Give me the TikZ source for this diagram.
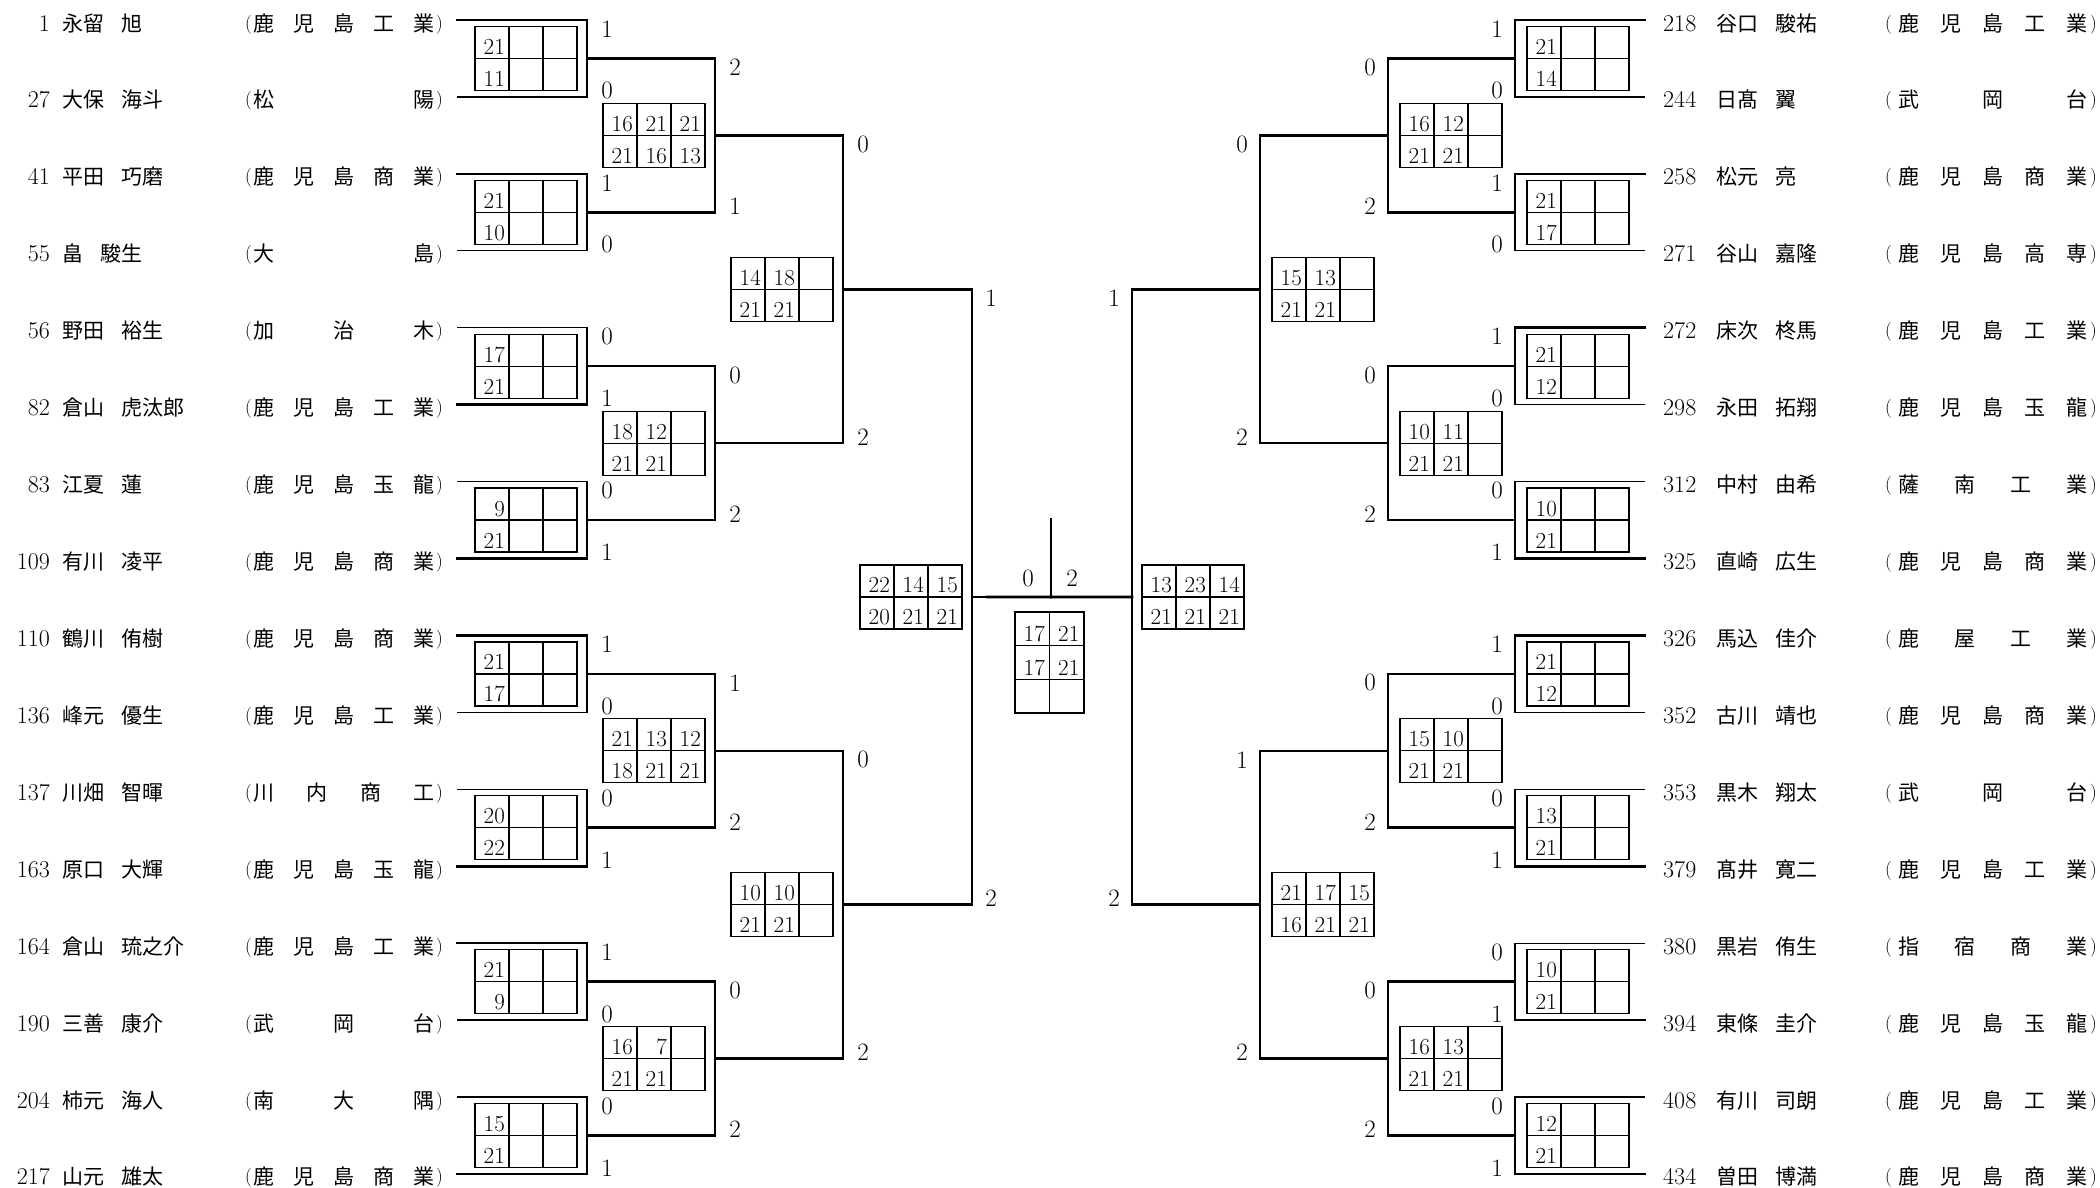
\documentclass[tikz,border=0pt]{standalone}
\usepackage{fontspec}
\newfontfamily\jpfont{Noto Sans CJK JP}
\usetikzlibrary{calc}
\tikzset{
  win line/.style={line width=2.6pt, line cap=rect},
  lose line/.style={line width=1.3pt},
  gridbox/.style={draw, line width=1.2pt, minimum width=102pt, minimum height=64pt, inner sep=0pt, outer sep=0pt},
  gridline/.style={line width=1.2pt},
  score/.style={font=\fontsize{23}{23}\selectfont, inner sep=0pt, anchor=base east},
  lbl/.style={font=\fontsize{25}{25}\selectfont, inner sep=0pt},
  numtxt/.style={font=\fontsize{24}{24}\selectfont, inner sep=0pt},
  jptxt/.style={font=\jpfont\fontsize{21}{21}\selectfont, inner sep=0pt},
  partxt/.style={font=\fontsize{19}{19}\selectfont, inner sep=0pt},
}
% score grid: #1 name, #2 anchor, #3 position, #4-#6 top row, #7-#9 bottom row
\newcommand\scoregrid[9]{%
  \node[gridbox, anchor=#2] (#1) at #3 {};
  \draw[gridline] ([xshift=34pt]#1.north west) -- ([xshift=34pt]#1.south west)
                  ([xshift=68pt]#1.north west) -- ([xshift=68pt]#1.south west)
                  (#1.west) -- (#1.east);
  \node[score] (#1a) at ([xshift=30pt,yshift=4pt]#1.west) {#4};
  \node[score] (#1b) at ([xshift=64pt,yshift=4pt]#1.west) {#5};
  \node[score] (#1c) at ([xshift=98pt,yshift=4pt]#1.west) {#6};
  \node[score] (#1d) at ([xshift=30pt,yshift=4pt]#1.south west) {#7};
  \node[score] (#1e) at ([xshift=64pt,yshift=4pt]#1.south west) {#8};
  \node[score] (#1f) at ([xshift=98pt,yshift=4pt]#1.south west) {#9};
}
% entrant path: #1 from, #2 to, #3 won, #4 round
\newcommand\entrant[4]{%
  \ifnum#3=1
    \draw[win line] (#1) -| (#2);
  \else
    \ifnum#4=1
      \draw[lose line] (#1) -| (#2);
    \else
      \draw[win line] (#1) -- (#1 -| #2);
      \draw[lose line] (#1 -| #2) -- (#2);
    \fi
  \fi}
% match: #1 side, #2 round, #3 k, #4 winner, #5 top label, #6 bottom label, #7 x, #8 label offset
\newcommand\drawmatch[8]{%
  \pgfmathtruncatemacro\bkkt{2*#3-1}%
  \pgfmathtruncatemacro\bkkb{2*#3}%
  \pgfmathtruncatemacro\bkrp{#2-1}%
  \pgfmathtruncatemacro\bkpw{2^(#2-1)}%
  \pgfmathsetmacro\bkya{20+76.93*(((2*#3-2)*\bkpw+1+(2*#3-1)*\bkpw)/2-1)}%
  \pgfmathsetmacro\bkyb{20+76.93*(((2*#3-1)*\bkpw+1+2*#3*\bkpw)/2-1)}%
  \pgfmathsetmacro\bkym{(\bkya+\bkyb)/2}%
  \pgfmathsetmacro\bklx{#7+(#8)}%
  \coordinate (#1M#2x#3) at (#7,\bkym);
  \ifnum#2=1 \edef\bkpa{#1R\bkkt}\edef\bkpb{#1R\bkkb}\else\edef\bkpa{#1M\bkrp x\bkkt}\edef\bkpb{#1M\bkrp x\bkkb}\fi
  \ifnum#4=1
    \edef\bktmp{\noexpand\entrant{\bkpb}{#1M#2x#3}{0}{#2}\noexpand\entrant{\bkpa}{#1M#2x#3}{1}{#2}}%
  \else
    \edef\bktmp{\noexpand\entrant{\bkpa}{#1M#2x#3}{0}{#2}\noexpand\entrant{\bkpb}{#1M#2x#3}{1}{#2}}%
  \fi
  \bktmp
  \node[lbl] (#1Lt#2x#3) at (\bklx,\bkya+9) {#5};
  \node[lbl] (#1Lb#2x#3) at (\bklx,\bkyb-6) {#6};
}
% left entry row: #1 row, #2 number, #3 family, #4 given, #5 count, #6 school chars
\newcommand\leftrow[6]{%
  \pgfmathsetmacro\rowyv{20+76.93*(#1-1)}%
  \coordinate (LR#1) at (457,\rowyv);
  \node[numtxt, anchor=base east] (Lnum#1) at (50,\rowyv+11) {#2};
  \node[jptxt, anchor=base west] (Lname#1) at (62,\rowyv+11) {#3\hspace{0.8em}#4};
  \node[partxt, anchor=base east] (Lpo#1) at (252,\rowyv+9) {(};
  \node[partxt, anchor=base west] (Lpc#1) at (436,\rowyv+9) {)};
  \foreach \schar [count=\jj] in {#6} {
    \pgfmathsetmacro\xx{264+(\jj-1)*160/(#5-1)}
    \node[jptxt, anchor=base] (Lsch#1x\jj) at (\xx,\rowyv+11) {\schar};
  }
}
\newcommand\rightrow[6]{%
  \pgfmathsetmacro\rowyv{20+76.93*(#1-1)}%
  \coordinate (RR#1) at (1645,\rowyv);
  \node[numtxt, anchor=base west] (Rnum#1) at (1663,\rowyv+11) {#2};
  \node[jptxt, anchor=base west] (Rname#1) at (1716,\rowyv+11) {#3\hspace{0.8em}#4};
  \node[partxt, anchor=base east] (Rpo#1) at (1892,\rowyv+9) {(};
  \node[partxt, anchor=base west] (Rpc#1) at (2090,\rowyv+9) {)};
  \foreach \schar [count=\jj] in {#6} {
    \pgfmathsetmacro\xx{1909+(\jj-1)*168/(#5-1)}
    \node[jptxt, anchor=base] (Rsch#1x\jj) at (\xx,\rowyv+11) {\schar};
  }
}
\begin{document}
\begin{tikzpicture}[x=1pt,y=-1pt]
\useasboundingbox (0,0) rectangle (2100,1187);
\fill[white] (0,0) rectangle (2100,1187);
% ---------- left entries
\leftrow{1}{1}{永留}{旭}{5}{鹿,児,島,工,業}
\leftrow{2}{27}{大保}{海斗}{2}{松,陽}
\leftrow{3}{41}{平田}{巧磨}{5}{鹿,児,島,商,業}
\leftrow{4}{55}{畠}{駿生}{2}{大,島}
\leftrow{5}{56}{野田}{裕生}{3}{加,治,木}
\leftrow{6}{82}{倉山}{虎汰郎}{5}{鹿,児,島,工,業}
\leftrow{7}{83}{江夏}{蓮}{5}{鹿,児,島,玉,龍}
\leftrow{8}{109}{有川}{凌平}{5}{鹿,児,島,商,業}
\leftrow{9}{110}{鶴川}{侑樹}{5}{鹿,児,島,商,業}
\leftrow{10}{136}{峰元}{優生}{5}{鹿,児,島,工,業}
\leftrow{11}{137}{川畑}{智暉}{4}{川,内,商,工}
\leftrow{12}{163}{原口}{大輝}{5}{鹿,児,島,玉,龍}
\leftrow{13}{164}{倉山}{琉之介}{5}{鹿,児,島,工,業}
\leftrow{14}{190}{三善}{康介}{3}{武,岡,台}
\leftrow{15}{204}{柿元}{海人}{3}{南,大,隅}
\leftrow{16}{217}{山元}{雄太}{5}{鹿,児,島,商,業}
% ---------- right entries
\rightrow{1}{218}{谷口}{駿祐}{5}{鹿,児,島,工,業}
\rightrow{2}{244}{日髙}{翼}{3}{武,岡,台}
\rightrow{3}{258}{松元}{亮}{5}{鹿,児,島,商,業}
\rightrow{4}{271}{谷山}{嘉隆}{5}{鹿,児,島,高,専}
\rightrow{5}{272}{床次}{柊馬}{5}{鹿,児,島,工,業}
\rightrow{6}{298}{永田}{拓翔}{5}{鹿,児,島,玉,龍}
\rightrow{7}{312}{中村}{由希}{4}{薩,南,工,業}
\rightrow{8}{325}{直崎}{広生}{5}{鹿,児,島,商,業}
\rightrow{9}{326}{馬込}{佳介}{4}{鹿,屋,工,業}
\rightrow{10}{352}{古川}{靖也}{5}{鹿,児,島,商,業}
\rightrow{11}{353}{黒木}{翔太}{3}{武,岡,台}
\rightrow{12}{379}{髙井}{寛二}{5}{鹿,児,島,工,業}
\rightrow{13}{380}{黒岩}{侑生}{4}{指,宿,商,業}
\rightrow{14}{394}{東條}{圭介}{5}{鹿,児,島,玉,龍}
\rightrow{15}{408}{有川}{司朗}{5}{鹿,児,島,工,業}
\rightrow{16}{434}{曽田}{博満}{5}{鹿,児,島,商,業}
% ---------- left matches
\drawmatch{L}{1}{1}{1}{1}{0}{587}{20}
\drawmatch{L}{1}{2}{1}{1}{0}{587}{20}
\drawmatch{L}{1}{3}{2}{0}{1}{587}{20}
\drawmatch{L}{1}{4}{2}{0}{1}{587}{20}
\drawmatch{L}{1}{5}{1}{1}{0}{587}{20}
\drawmatch{L}{1}{6}{2}{0}{1}{587}{20}
\drawmatch{L}{1}{7}{1}{1}{0}{587}{20}
\drawmatch{L}{1}{8}{2}{0}{1}{587}{20}
\drawmatch{L}{2}{1}{1}{2}{1}{715}{20}
\drawmatch{L}{2}{2}{2}{0}{2}{715}{20}
\drawmatch{L}{2}{3}{2}{1}{2}{715}{20}
\drawmatch{L}{2}{4}{2}{0}{2}{715}{20}
\drawmatch{L}{3}{1}{2}{0}{2}{843}{20}
\drawmatch{L}{3}{2}{2}{0}{2}{843}{20}
\drawmatch{L}{4}{1}{2}{1}{2}{972}{19}
% ---------- right matches
\drawmatch{R}{1}{1}{1}{1}{0}{1515}{-18}
\drawmatch{R}{1}{2}{1}{1}{0}{1515}{-18}
\drawmatch{R}{1}{3}{1}{1}{0}{1515}{-18}
\drawmatch{R}{1}{4}{2}{0}{1}{1515}{-18}
\drawmatch{R}{1}{5}{1}{1}{0}{1515}{-18}
\drawmatch{R}{1}{6}{2}{0}{1}{1515}{-18}
\drawmatch{R}{1}{7}{2}{0}{1}{1515}{-18}
\drawmatch{R}{1}{8}{2}{0}{1}{1515}{-18}
\drawmatch{R}{2}{1}{2}{0}{2}{1388}{-18}
\drawmatch{R}{2}{2}{2}{0}{2}{1388}{-18}
\drawmatch{R}{2}{3}{2}{0}{2}{1388}{-18}
\drawmatch{R}{2}{4}{2}{0}{2}{1388}{-18}
\drawmatch{R}{3}{1}{2}{0}{2}{1260}{-18}
\drawmatch{R}{3}{2}{2}{1}{2}{1260}{-18}
\drawmatch{R}{4}{1}{2}{1}{2}{1132}{-18}
% ---------- final
\coordinate (FM) at (1051,597);
\coordinate (FT) at (1051,519);
\draw[lose line] (LM4x1) -- ++(15,0) coordinate (FLa);
\draw[win line] (FLa) -- (FM);
\draw[win line] (RM4x1) -- (FM);
\draw[win line] (FM) -- (FT);
\node[lbl] (F0) at (1028,578) {0};
\node[lbl] (F2) at (1072,578) {2};
\node[draw, line width=1.2pt, minimum width=69pt, minimum height=101pt, inner sep=0pt, outer sep=0pt, anchor=north] (FB) at (1049.5,612) {};
\draw[gridline] (FB.north) -- (FB.south)
  ([yshift=-33.67pt]FB.north west) -- ([yshift=-33.67pt]FB.north east)
  ([yshift=-67.33pt]FB.north west) -- ([yshift=-67.33pt]FB.north east);
\node[score] (FBa) at ([xshift=30pt,yshift=-29.7pt]FB.north west) {17};
\node[score] (FBb) at ([xshift=64.5pt,yshift=-29.7pt]FB.north west) {21};
\node[score] (FBc) at ([xshift=30pt,yshift=-63.3pt]FB.north west) {17};
\node[score] (FBd) at ([xshift=64.5pt,yshift=-63.3pt]FB.north west) {21};
% ---------- left boxes
\scoregrid{LB1x1}{east}{([xshift=-10pt]LM1x1)}{21}{}{}{11}{}{}
\scoregrid{LB1x2}{east}{([xshift=-10pt]LM1x2)}{21}{}{}{10}{}{}
\scoregrid{LB1x3}{east}{([xshift=-10pt]LM1x3)}{17}{}{}{21}{}{}
\scoregrid{LB1x4}{east}{([xshift=-10pt]LM1x4)}{9}{}{}{21}{}{}
\scoregrid{LB1x5}{east}{([xshift=-10pt]LM1x5)}{21}{}{}{17}{}{}
\scoregrid{LB1x6}{east}{([xshift=-10pt]LM1x6)}{20}{}{}{22}{}{}
\scoregrid{LB1x7}{east}{([xshift=-10pt]LM1x7)}{21}{}{}{9}{}{}
\scoregrid{LB1x8}{east}{([xshift=-10pt]LM1x8)}{15}{}{}{21}{}{}
\scoregrid{LB2x1}{east}{([xshift=-10pt]LM2x1)}{16}{21}{21}{21}{16}{13}
\scoregrid{LB2x2}{east}{([xshift=-10pt]LM2x2)}{18}{12}{}{21}{21}{}
\scoregrid{LB2x3}{east}{([xshift=-10pt]LM2x3)}{21}{13}{12}{18}{21}{21}
\scoregrid{LB2x4}{east}{([xshift=-10pt]LM2x4)}{16}{7}{}{21}{21}{}
\scoregrid{LB3x1}{east}{([xshift=-10pt]LM3x1)}{14}{18}{}{21}{21}{}
\scoregrid{LB3x2}{east}{([xshift=-10pt]LM3x2)}{10}{10}{}{21}{21}{}
\scoregrid{LB4x1}{east}{([xshift=-10pt]LM4x1)}{22}{14}{15}{20}{21}{21}
% ---------- right boxes
\scoregrid{RB1x1}{west}{([xshift=12pt]RM1x1)}{21}{}{}{14}{}{}
\scoregrid{RB1x2}{west}{([xshift=12pt]RM1x2)}{21}{}{}{17}{}{}
\scoregrid{RB1x3}{west}{([xshift=12pt]RM1x3)}{21}{}{}{12}{}{}
\scoregrid{RB1x4}{west}{([xshift=12pt]RM1x4)}{10}{}{}{21}{}{}
\scoregrid{RB1x5}{west}{([xshift=12pt]RM1x5)}{21}{}{}{12}{}{}
\scoregrid{RB1x6}{west}{([xshift=12pt]RM1x6)}{13}{}{}{21}{}{}
\scoregrid{RB1x7}{west}{([xshift=12pt]RM1x7)}{10}{}{}{21}{}{}
\scoregrid{RB1x8}{west}{([xshift=12pt]RM1x8)}{12}{}{}{21}{}{}
\scoregrid{RB2x1}{west}{([xshift=12pt]RM2x1)}{16}{12}{}{21}{21}{}
\scoregrid{RB2x2}{west}{([xshift=12pt]RM2x2)}{10}{11}{}{21}{21}{}
\scoregrid{RB2x3}{west}{([xshift=12pt]RM2x3)}{15}{10}{}{21}{21}{}
\scoregrid{RB2x4}{west}{([xshift=12pt]RM2x4)}{16}{13}{}{21}{21}{}
\scoregrid{RB3x1}{west}{([xshift=12pt]RM3x1)}{15}{13}{}{21}{21}{}
\scoregrid{RB3x2}{west}{([xshift=12pt]RM3x2)}{21}{17}{15}{16}{21}{21}
\scoregrid{RB4x1}{west}{([xshift=10pt]RM4x1)}{13}{23}{14}{21}{21}{21}
\end{tikzpicture}
\end{document}
